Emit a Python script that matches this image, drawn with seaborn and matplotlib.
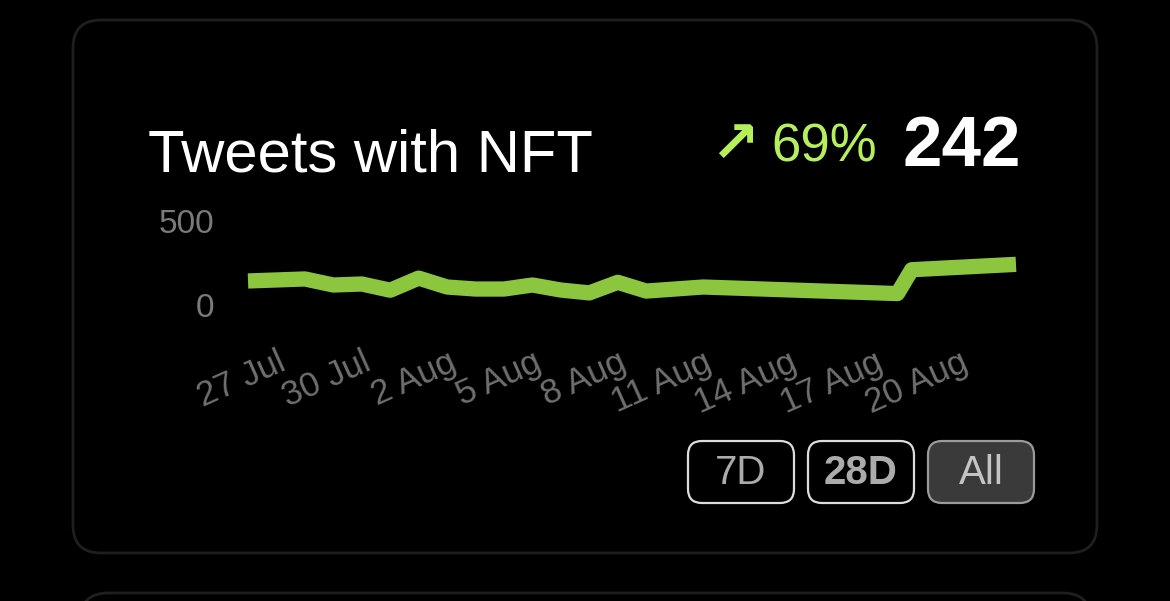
import pandas as pd
import matplotlib.pyplot as plt
import seaborn as sns
from matplotlib.patches import FancyBboxPatch
from matplotlib.transforms import ScaledTranslation

# tweet counts
dates = ['2021-07-26', '2021-07-27', '2021-07-28', '2021-07-29', '2021-07-30',
         '2021-07-31', '2021-08-01', '2021-08-02', '2021-08-03', '2021-08-04',
         '2021-08-05', '2021-08-06', '2021-08-07', '2021-08-08', '2021-08-09',
         '2021-08-10', '2021-08-11', '2021-08-17 20:00', '2021-08-18 08:00',
         '2021-08-22']
tweets = [143, 149, 155, 119, 125, 88, 160, 107, 95, 95,
          119, 89, 72, 135, 83, 95, 107, 68, 210, 242]

tick_dates = ['2021-07-27', '2021-07-30', '2021-08-02', '2021-08-05', '2021-08-08',
              '2021-08-11', '2021-08-14', '2021-08-17', '2021-08-20']
tick_labels = ['27 Jul', '30 Jul', '2 Aug', '5 Aug', '8 Aug',
               '11 Aug', '14 Aug', '17 Aug', '20 Aug']
y_ticks = [0, 500]

title = 'Tweets with NFT'
change = '69%'
total = '242'
buttons = ['7D', '28D', 'All']

df = pd.DataFrame({'date': pd.to_datetime(dates, format='ISO8601'), 'tweets': tweets})

sns.set_style('dark')
plt.rcParams['font.family'] = ['Liberation Sans', 'DejaVu Sans']

W, H = 1170, 601
fig = plt.figure(figsize=(W / 100, H / 100), dpi=100, facecolor='black')

# pixel-space layer for the card, header and buttons
bg = fig.add_axes([0, 0, 1, 1])
bg.set_xlim(0, W)
bg.set_ylim(H, 0)
bg.axis('off')
bg.set_facecolor('black')

bg.add_patch(FancyBboxPatch((73, 20), 1024, 533, boxstyle='round,pad=0,rounding_size=28',
                            facecolor='black', edgecolor='#1f1f1f', linewidth=2))
bg.add_patch(FancyBboxPatch((80, 593), 1011, 200, boxstyle='round,pad=0,rounding_size=28',
                            facecolor='black', edgecolor='#1f1f1f', linewidth=2))

bg.text(148, 171, title, color='white', fontsize=43, va='baseline', ha='left')
bg.text(1021, 166, total, color='white', fontsize=51, fontweight='bold', va='baseline', ha='right')
bg.text(877, 161, change, color='#b5f05a', fontsize=38, va='baseline', ha='right')
bg.text(734, 145, '\u2197', color='#b5f05a', fontsize=42, fontweight='bold',
        family=['DejaVu Sans'], va='center', ha='center')

btn_x = [688, 808, 928]
for i, label in enumerate(buttons):
    active = label == 'All'
    bg.add_patch(FancyBboxPatch((btn_x[i], 441), 106, 62, boxstyle='round,pad=0,rounding_size=14',
                                facecolor='#3a3a3a' if active else 'black',
                                edgecolor='#9a9a9a' if active else '#dcdcdc', linewidth=1.6))
    bg.text(btn_x[i] + 53, 473, label, color='#c4c4c4' if active else '#ababab',
            fontsize=29, fontweight='bold' if label == '28D' else 'normal',
            ha='center', va='center')

# chart area: x 248..1016 px, y 0 at 305 px, 500 at 221 px
ax = fig.add_axes([248 / W, 1 - 305 / H, (1016 - 248) / W, 84 / H])
ax.set_facecolor('none')
sns.lineplot(data=df, x='date', y='tweets', ax=ax, color='#8cc63f', linewidth=11)
line = ax.lines[0]
line.set_solid_joinstyle('round')
line.set_solid_capstyle('butt')
line.set_clip_on(False)

ax.set_xlim(df['date'].iloc[0], df['date'].iloc[-1])
ax.set_ylim(0, 500)
ax.set_yticks(y_ticks)
ax.set_yticklabels([str(v) for v in y_ticks])
ax.set_xticks(pd.to_datetime(tick_dates))
ax.set_xticklabels(tick_labels)
ax.tick_params(axis='y', length=0, pad=24, labelsize=24, labelcolor='#7a7a7a')
ax.tick_params(axis='x', length=0, pad=40, labelsize=25, labelcolor='#6f6f6f')
offset = ScaledTranslation(5 / 72, 0, fig.dpi_scale_trans)
for lab in ax.get_xticklabels():
    lab.set_rotation(24)
    lab.set_ha('right')
    lab.set_va('center')
    lab.set_rotation_mode('anchor')
    lab.set_transform(lab.get_transform() + offset)
ax.grid(False)
ax.set_xlabel('')
ax.set_ylabel('')
for s in ax.spines.values():
    s.set_visible(False)

fig.savefig('out.png', dpi=100, facecolor='black')
